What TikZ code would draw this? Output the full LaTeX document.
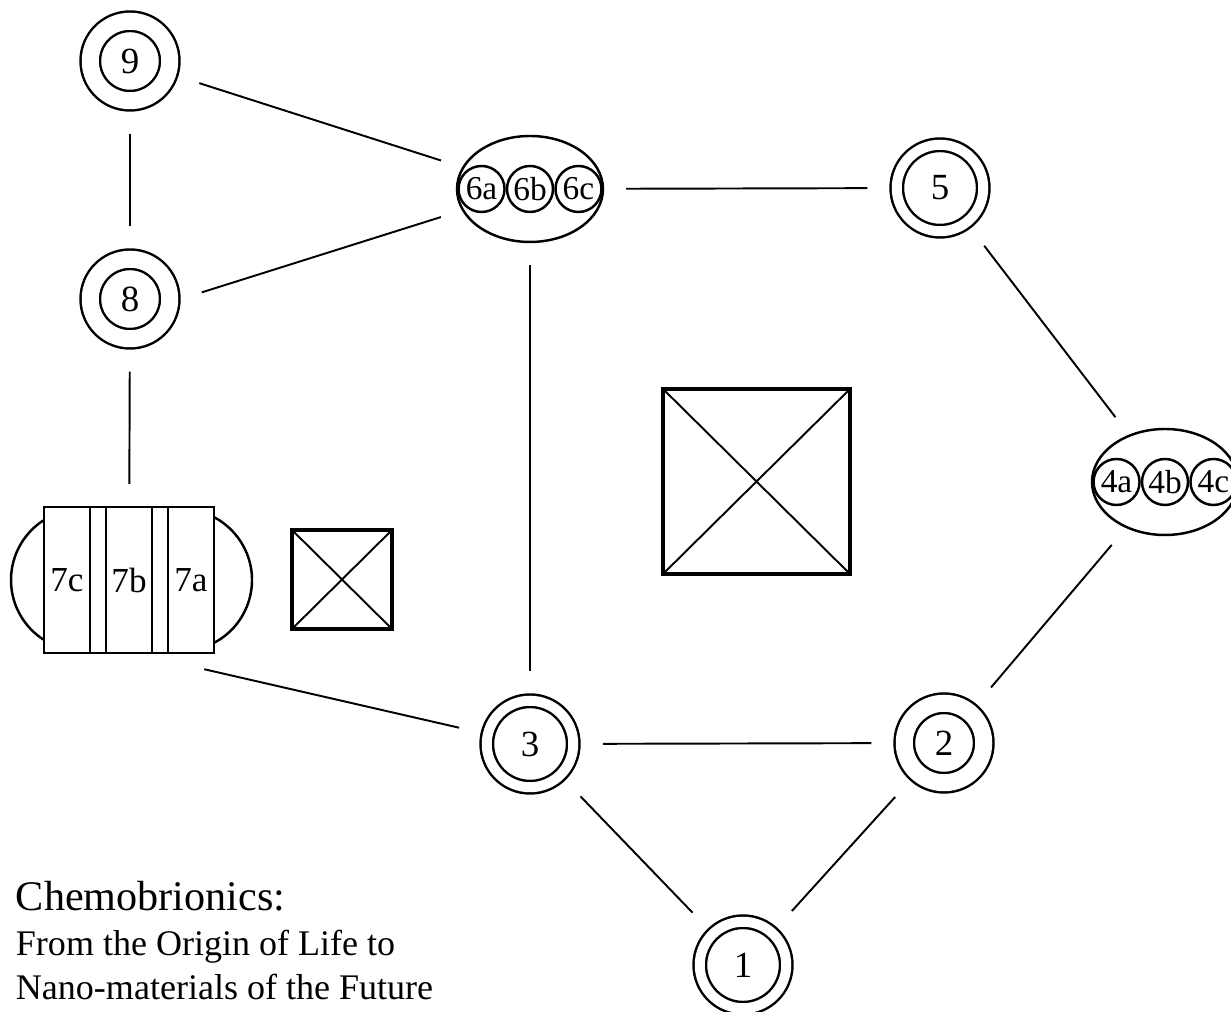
\documentclass[tikz,border=0pt]{standalone}
\usepackage{fontspec}
\setmainfont{Liberation Serif}
\usetikzlibrary{automata, positioning, shapes.geometric}

\tikzset{
	ring/.style={state, accepting, line width=1.4pt, inner sep=0pt, minimum size=1.59cm, double distance=0.34cm, outer sep=0.22cm, font=\fontsize{21}{24}\selectfont},
	thinring/.style={state, accepting, line width=1.4pt, inner sep=0pt, minimum size=1.73cm, double distance=0.2cm, outer sep=0.15cm, font=\fontsize{21}{24}\selectfont},
	pod/.style={ellipse, draw, line width=1.4pt, minimum width=2.92cm, minimum height=2.12cm},
	cell/.style={circle, draw, line width=1.4pt, inner sep=0pt, minimum size=0.92cm},
	slab/.style={rectangle, draw, line width=1.4pt, inner sep=0pt, minimum width=0.92cm, minimum height=2.92cm, font=\fontsize{20}{24}\selectfont},
	xbox/.style={rectangle, draw, line width=1.9pt, inner sep=0pt, outer sep=0pt}
}

\begin{document}
\begin{tikzpicture}[node distance=0pt, line width=1.1pt, font=\fontsize{19}{22}\selectfont,
	every edge/.append style={shorten >=0.44cm, shorten <=0.44cm}]
		\useasboundingbox (0,0) rectangle (24.62,20.24);
		\node[ring] (s9) at (2.6,19.02) {9};
		\node[ring] (s8) at (2.6,14.26) {8};
		\node[thinring] (s5) at (18.8,16.48) {5};
		\node[thinring] (s3) at (10.6,5.36) {3};
		\node[ring] (s2) at (18.88,5.38) {2};
		\node[thinring] (s1) at (14.86,0.94) {1};
		% clusters 6 and 4
		\node[pod] (s6) at (10.6,16.46) {};
		\node[cell] (s6b) at (s6) {6b};
		\node[cell, left=of s6b] (s6a) {6a};
		\node[cell, right=of s6b] (s6c) {6c};
		\node[pod] (s4) at (23.3,10.6) {};
		\node[cell] (s4b) at (s4) {4b};
		\node[cell, left=of s4b] (s4a) {4a};
		\node[cell, right=of s4b] (s4c) {4c};
		% stack 7
		\node[rectangle, draw, line width=1.4pt, minimum width=3.4cm, minimum height=2.92cm] (s7) at (2.58,8.64) {};
		\draw[line width=1.4pt] ([xshift=-0.94cm]s7.center) ++(123:1.42) arc[start angle=123, end angle=237, radius=1.42];
		\draw[line width=1.4pt] ([xshift=1.04cm]s7.center) ++(-62:1.42) arc[start angle=-62, end angle=62, radius=1.42];
		\node[slab, anchor=west] (s7c) at (s7.west) {7c};
		\node[slab] (s7b) at (s7) {7b};
		\node[slab, anchor=east] (s7a) at (s7.east) {7a};
		% crossed boxes
		\node[xbox, minimum width=3.74cm, minimum height=3.7cm] (big) at (15.13,10.61) {};
		\node[xbox, minimum width=2cm, minimum height=1.98cm] (small) at (6.84,8.65) {};
		\draw (big.north west) -- (big.south east) (big.north east) -- (big.south west);
		\draw (small.north west) -- (small.south east) (small.north east) -- (small.south west);
		% title
		\node[anchor=base west, inner sep=0pt, font=\fontsize{24}{28}\selectfont] (title) at (0.3,2.03) {Chemobrionics:};
		\node[anchor=base west, inner sep=0pt, font=\fontsize{20.5}{24}\selectfont] (sub1) at (0.3,1.12) {From the Origin of Life to};
		\node[anchor=base west, inner sep=0pt, font=\fontsize{20.5}{24}\selectfont] (sub2) at (0.3,0.24) {Nano-materials of the Future};
		\draw
			(s9) edge (s8)
			(s8) edge (s7)
			(s9) edge (s6)
			(s8.east) edge (s6)
			(s6) edge (s5)
			(s6) edge (s3)
			(s5) edge (s4)
			(s4) edge (s2)
			(s3) edge (s2)
			(s3) edge (s1)
			(s2) edge (s1)
			([shift={(-0.22,-0.3)}]s7.south east) edge[shorten <=0pt] (s3);
	\end{tikzpicture}
\end{document}
